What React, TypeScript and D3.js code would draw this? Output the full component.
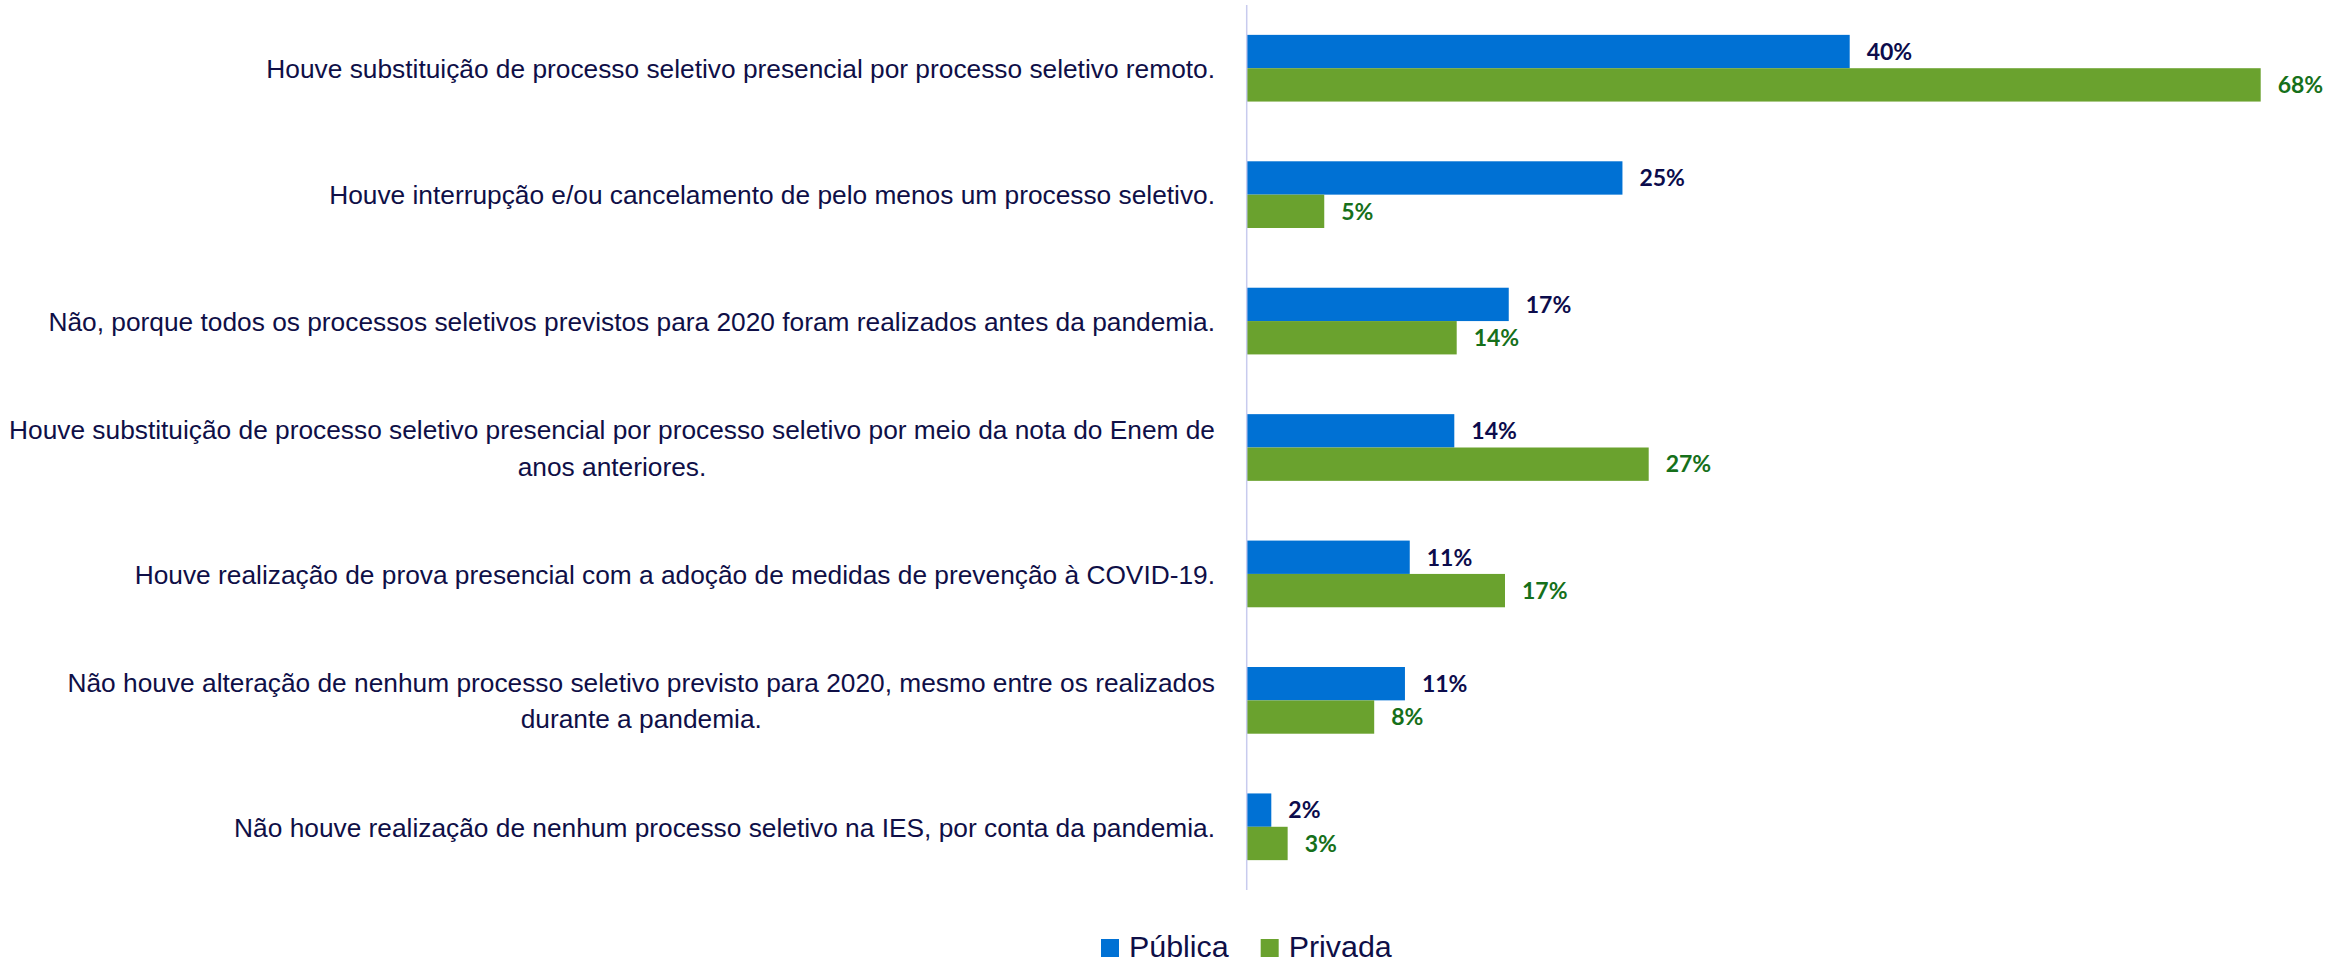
import React, { useEffect, useRef } from "react";
import * as d3 from "d3";

const categories: string[][] = [
  ["Houve substituição de processo seletivo presencial por processo seletivo remoto."],
  ["Houve interrupção e/ou cancelamento de pelo menos um processo seletivo."],
  ["Não, porque todos os processos seletivos previstos para 2020 foram realizados antes da pandemia."],
  ["Houve substituição de processo seletivo presencial por processo seletivo por meio da nota do Enem de", "anos anteriores."],
  ["Houve realização de prova presencial com a adoção de medidas de prevenção à COVID-19."],
  ["Não houve alteração de nenhum processo seletivo previsto para 2020, mesmo entre os realizados", "durante a pandemia."],
  ["Não houve realização de nenhum processo seletivo na IES, por conta da pandemia."],
];
const seriesNames = ["Pública", "Privada"];
const publica = [40.2, 25.05, 17.47, 13.84, 10.87, 10.55, 1.64];
const privada = [67.6, 5.17, 14.0, 26.8, 17.22, 8.5, 2.73];
const publicaLabels = ["40%", "25%", "17%", "14%", "11%", "11%", "2%"];
const privadaLabels = ["68%", "5%", "14%", "27%", "17%", "8%", "3%"];

const W = 2346;
const H = 963;
const COLORS = ["#0071d4", "#6aa22e"];
const LABEL_COLORS = ["#0c0c4c", "#16701a"];
const TEXT = "#0f0f47";

export default function App() {
  const ref = useRef<SVGSVGElement | null>(null);

  useEffect(() => {
    document.body.style.margin = "0";
    const svg = d3.select(ref.current!);
    svg.selectAll("*").remove();

    svg.append("rect").attr("width", W).attr("height", H).attr("fill", "#ffffff");

    const keys = categories.map((_, i) => String(i));
    const x = d3.scaleLinear().domain([0, 100]).range([1246.7, 2746.7]);
    const y = d3.scaleBand<string>().domain(keys).range([5, 890]).padding(0);
    const groupH = 66.7;
    const inner = d3.scaleBand<string>().domain(seriesNames).range([0, groupH]).padding(0);
    const values = [publica, privada];
    const labels = [publicaLabels, privadaLabels];

    const rowTop = (k: string) => (y(k) as number) + (y.bandwidth() - groupH) / 2;
    const rowCenter = (k: string) => (y(k) as number) + y.bandwidth() / 2;

    // bars
    seriesNames.forEach((s, si) => {
      const g = svg.append("g");
      g.selectAll("rect")
        .data(keys)
        .join("rect")
        .attr("x", x(0))
        .attr("y", (k) => rowTop(k) + (inner(s) as number))
        .attr("width", (k) => x(values[si][+k]) - x(0))
        .attr("height", inner.bandwidth())
        .attr("fill", COLORS[si]);
      g.selectAll("text")
        .data(keys)
        .join("text")
        .attr("x", (k) => x(values[si][+k]) + 17)
        .attr("y", (k) => rowTop(k) + (inner(s) as number) + inner.bandwidth() / 2)
        .attr("dy", "0.36em")
        .attr("font-family", "Lato, 'Open Sans', sans-serif")
        .attr("font-weight", 700)
        .attr("font-size", 23)
        .attr("fill", LABEL_COLORS[si])
        .text((k) => labels[si][+k]);
    });

    // axis line
    svg.append("line")
      .attr("x1", x(0)).attr("x2", x(0))
      .attr("y1", y.range()[0]).attr("y2", y.range()[1])
      .attr("stroke", "#c8cbee").attr("stroke-width", 1.5);

    // category labels
    const labelRight = 1215;
    const fs = 26.3;
    const lineH = 36.7;
    const lg = svg.append("g")
      .attr("font-family", "'Liberation Sans', Arial, sans-serif")
      .attr("font-size", fs)
      .attr("fill", TEXT);
    keys.forEach((k) => {
      const lines = categories[+k];
      const c = rowCenter(k);
      const first = c - ((lines.length - 1) * lineH) / 2 + 0.37 * fs;
      const t1 = lg.append("text")
        .attr("x", labelRight).attr("y", first)
        .attr("text-anchor", "end").text(lines[0]);
      if (lines.length > 1) {
        const w1 = (t1.node() as SVGTextElement).getComputedTextLength();
        const mid = labelRight - w1 / 2;
        for (let i = 1; i < lines.length; i++) {
          lg.append("text")
            .attr("x", mid).attr("y", first + i * lineH)
            .attr("text-anchor", "middle").text(lines[i]);
        }
      }
    });

    // legend
    const leg = svg.append("g")
      .attr("font-family", "'Liberation Sans', Arial, sans-serif")
      .attr("font-size", 30.4)
      .attr("fill", TEXT);
    let lx = 1101;
    seriesNames.forEach((s, si) => {
      leg.append("rect").attr("x", lx).attr("y", 939).attr("width", 18).attr("height", 18).attr("fill", COLORS[si]);
      const t = leg.append("text").attr("x", lx + 28).attr("y", 957).text(s);
      const w = (t.node() as SVGTextElement).getComputedTextLength();
      lx = lx + 28 + w + 32;
    });
  }, []);

  return (
    <svg ref={ref} width={W} height={H} style={{ display: "block" }} />
  );
}
